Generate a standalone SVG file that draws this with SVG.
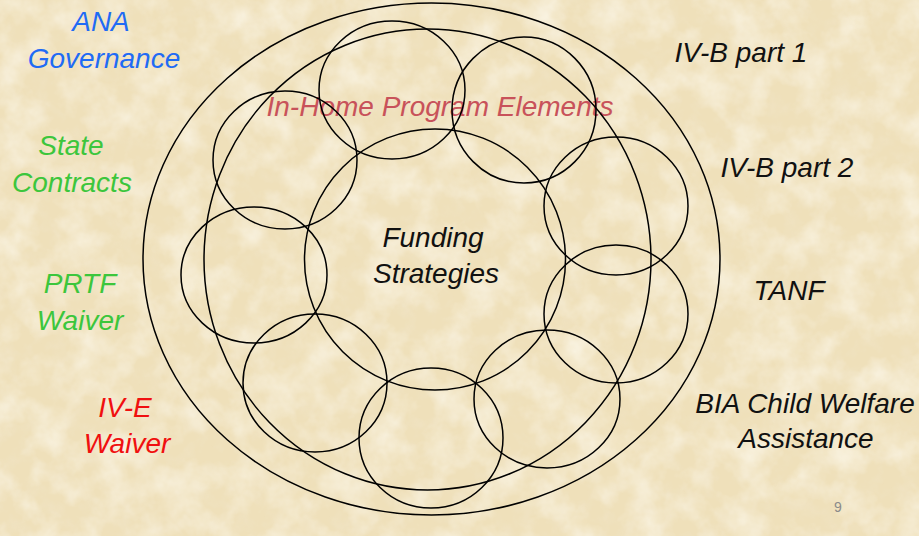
<svg xmlns="http://www.w3.org/2000/svg" width="919" height="536" viewBox="0 0 919 536">
  <defs>
    <filter id="paper" x="0" y="0" width="100%" height="100%">
      <feTurbulence type="fractalNoise" baseFrequency="0.03" numOctaves="4" seed="7" result="n"/>
      <feColorMatrix in="n" type="matrix" values="0 0 0 0 0.97  0 0 0 0 0.93  0 0 0 0 0.82  1.5 0 0 0 -0.6" result="light"/>
      <feTurbulence type="fractalNoise" baseFrequency="0.06" numOctaves="3" seed="21" result="n2"/>
      <feColorMatrix in="n2" type="matrix" values="0 0 0 0 0.88  0 0 0 0 0.79  0 0 0 0 0.60  1.0 0 0 0 -0.45" result="dark"/>
      <feMerge><feMergeNode in="dark"/><feMergeNode in="light"/></feMerge>
    </filter>
    <style>
      .ring { fill: none; stroke: #000; stroke-width: 1.5; }
      .lbl { font-family: "Liberation Sans", Arial, sans-serif; font-style: italic; font-size: 28px; text-anchor: middle; }
      .blue { fill: #1f6bf5; }
      .green { fill: #3cc63c; }
      .red { fill: #f01010; }
      .black { fill: #111; }
      .rose { fill: #c8525a; }
    </style>
  </defs>
  <rect width="919" height="536" fill="#efe0ba"/>
  <rect width="919" height="536" filter="url(#paper)"/>

  <g id="labels-left">
    <g id="ana"><text class="lbl blue" x="101" y="31">ANA</text><text class="lbl blue" x="104" y="68">Governance</text></g>
    <g id="state"><text class="lbl green" x="71" y="155">State</text><text class="lbl green" x="72" y="192">Contracts</text></g>
    <g id="prtf"><text class="lbl green" x="80" y="293">PRTF</text><text class="lbl green" x="80" y="330">Waiver</text></g>
    <g id="ive"><text class="lbl red" x="125" y="417">IV-E</text><text class="lbl red" x="127" y="453">Waiver</text></g>
  </g>
  <g id="labels-right">
    <g id="ivb1"><text class="lbl black" x="741" y="62">IV-B part 1</text></g>
    <g id="ivb2"><text class="lbl black" x="787" y="177">IV-B part 2</text></g>
    <g id="tanf"><text class="lbl black" x="789" y="300">TANF</text></g>
    <g id="bia"><text class="lbl black" x="805" y="413" font-size="27.3">BIA Child Welfare</text><text class="lbl black" x="806" y="448">Assistance</text></g>
  </g>
  <g id="in-home-label"><text class="lbl rose" x="440" y="116">In-Home Program Elements</text></g>
  <g id="funding-label"><text class="lbl black" x="433" y="247" font-size="28.5">Funding</text><text class="lbl black" x="436" y="283" font-size="28.5">Strategies</text></g>
  <text x="838" y="512" font-family="Liberation Sans, Arial, sans-serif" font-size="14" fill="#8a8a8a" text-anchor="middle">9</text>

  <g id="rings">
    <ellipse id="outer" class="ring" cx="431.5" cy="259" rx="288.5" ry="256"/>
    <ellipse id="program-ring" class="ring" cx="427.5" cy="259.5" rx="223.5" ry="230.5"/>
    <circle id="funding" class="ring" cx="435" cy="259.5" r="130.5"/>
    <ellipse id="c1" class="ring" cx="392" cy="90" rx="73" ry="69"/>
    <ellipse id="c2" class="ring" cx="524" cy="110" rx="72" ry="73"/>
    <ellipse id="c3" class="ring" cx="616" cy="206" rx="72" ry="69"/>
    <ellipse id="c4" class="ring" cx="616" cy="314" rx="72" ry="69"/>
    <ellipse id="c5" class="ring" cx="547" cy="399" rx="73" ry="69"/>
    <ellipse id="c6" class="ring" cx="431" cy="438" rx="72" ry="70"/>
    <ellipse id="c7" class="ring" cx="315" cy="383" rx="72" ry="69"/>
    <ellipse id="c8" class="ring" cx="254" cy="275" rx="73" ry="68"/>
    <ellipse id="c9" class="ring" cx="285" cy="160" rx="72" ry="69"/>
  </g>
</svg>
